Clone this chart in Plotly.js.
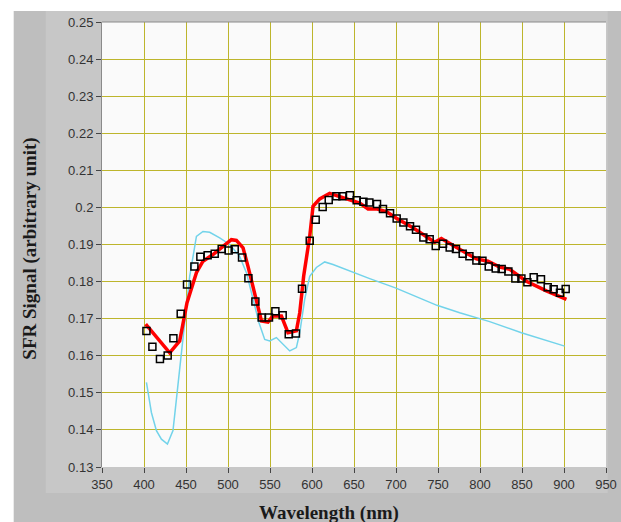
<!DOCTYPE html>
<html>
<head>
<meta charset="utf-8">
<script src="https://cdn.plot.ly/plotly-3.0.1.min.js"></script>
<style>
html,body{margin:0;padding:0;background:#ffffff;}
#chart{width:621px;height:522px;}
</style>
</head>
<body>
<div id="chart"></div>
<script>
// Measured signal (open squares)
var sqX = [402.9, 410.0, 419.0, 428.2, 435.0, 443.7, 451.2, 460.0, 467.1, 475.8, 484.2, 492.5, 500.8, 508.0, 516.7, 524.3, 532.6, 540.1, 548.8, 556.4, 565.1, 572.3, 580.9, 588.1, 597.3, 604.4, 612.7, 619.9, 629.0, 636.2, 645.2, 653.2, 661.2, 668.3, 677.4, 684.5, 692.9, 700.8, 708.8, 716.7, 723.8, 732.6, 740.1, 747.3, 756.0, 763.9, 771.4, 779.4, 787.4, 795.7, 802.9, 810.4, 818.7, 825.8, 833.8, 842.1, 849.3, 856.4, 863.9, 872.6, 880.6, 887.7, 895.2, 902.0];
var sqY = [0.1667, 0.1624, 0.1591, 0.1601, 0.1647, 0.1713, 0.1792, 0.1841, 0.1867, 0.1871, 0.1875, 0.1888, 0.1884, 0.1887, 0.1865, 0.1809, 0.1746, 0.1703, 0.1703, 0.1720, 0.1709, 0.1658, 0.1660, 0.1781, 0.1910, 0.1967, 0.2001, 0.2020, 0.2030, 0.2030, 0.2033, 0.2019, 0.2015, 0.2013, 0.2009, 0.1996, 0.1984, 0.1970, 0.1959, 0.1949, 0.1940, 0.1919, 0.1914, 0.1896, 0.1902, 0.1892, 0.1888, 0.1875, 0.1868, 0.1857, 0.1856, 0.1841, 0.1835, 0.1834, 0.1827, 0.1808, 0.1808, 0.1798, 0.1812, 0.1806, 0.1785, 0.1779, 0.1770, 0.1780];

// Fit (thick red line)
var redX = [402, 430.6, 442.5, 451.2, 462.4, 470.2, 482.1, 494, 504, 510, 517.9, 523.8, 533.8, 539.8, 547.6, 553.6, 563.6, 571.4, 581.4, 585.4, 590.1, 597.3, 601.2, 609.2, 621, 633, 644.9, 656.8, 666.7, 676.7, 688.6, 700.5, 720.2, 732.1, 746.1, 754, 763.9, 779.8, 795.7, 809.5, 823.5, 835.4, 855.2, 879, 902.9];
var redY = [0.1685, 0.1608, 0.1640, 0.1743, 0.1824, 0.1855, 0.1873, 0.1894, 0.1913, 0.1911, 0.1891, 0.1841, 0.1743, 0.1694, 0.1691, 0.1707, 0.1707, 0.1662, 0.1667, 0.1716, 0.1815, 0.1922, 0.2003, 0.2023, 0.2038, 0.2030, 0.2021, 0.2012, 0.1996, 0.1996, 0.1989, 0.1971, 0.1945, 0.1927, 0.1906, 0.1916, 0.1902, 0.1882, 0.1861, 0.1855, 0.1839, 0.1833, 0.1801, 0.1775, 0.1752];

// Reference curve (thin cyan line)
var cyanX = [402.9, 408.8, 414.8, 420.7, 427.9, 434.5, 438.6, 442.5, 448.5, 454.4, 462.4, 470.2, 478.2, 490.1, 502, 513.9, 521.9, 529.8, 536.9, 543.7, 549.6, 557.6, 565.5, 573.5, 581.4, 585.4, 591.3, 597.3, 605.2, 615.1, 625, 644.9, 668.7, 699.3, 724.3, 748.8, 775.8, 799.6, 811.5, 849.3, 900.8];
var cyanY = [0.1528, 0.1447, 0.1398, 0.1375, 0.1362, 0.1398, 0.1483, 0.1564, 0.1689, 0.1814, 0.1922, 0.1935, 0.1933, 0.1918, 0.1900, 0.1868, 0.1824, 0.1752, 0.1689, 0.1644, 0.1640, 0.1649, 0.1631, 0.1613, 0.1622, 0.1662, 0.1752, 0.1814, 0.1838, 0.1853, 0.1846, 0.1828, 0.1808, 0.1783, 0.1759, 0.1736, 0.1716, 0.1700, 0.1692, 0.1662, 0.1626];

var xTicks = [350, 400, 450, 500, 550, 600, 650, 700, 750, 800, 850, 900, 950];
var yTicks = [0.13, 0.14, 0.15, 0.16, 0.17, 0.18, 0.19, 0.2, 0.21, 0.22, 0.23, 0.24, 0.25];
var yTickText = ['0.13', '0.14', '0.15', '0.16', '0.17', '0.18', '0.19', '0.2', '0.21', '0.22', '0.23', '0.24', '0.25'];

var gridColor = '#bdb52c';
var tickFont = {family: 'Liberation Sans, Arial, sans-serif', size: 13, color: '#333333'};
var titleFont = {family: 'Liberation Serif, Times New Roman, serif', size: 19, color: '#1a1a1a', weight: 'bold'};

var traces = [
  {x: cyanX, y: cyanY, type: 'scatter', mode: 'lines', line: {color: '#72d3ea', width: 1.5}, hoverinfo: 'skip'},
  {x: redX, y: redY, type: 'scatter', mode: 'lines', line: {color: '#ff0000', width: 3.5}, hoverinfo: 'skip'},
  {x: sqX, y: sqY, type: 'scatter', mode: 'markers', marker: {symbol: 'square-open', size: 7, color: '#000000', line: {width: 1.5, color: '#000000'}}, hoverinfo: 'skip'}
];

var layout = {
  width: 621, height: 522,
  margin: {l: 102, r: 15, t: 22, b: 55},
  paper_bgcolor: '#ffffff',
  plot_bgcolor: 'rgba(0,0,0,0)',
  showlegend: false,
  xaxis: {
    range: [350, 950], tickvals: xTicks, ticktext: xTicks.map(String),
    showgrid: true, gridcolor: gridColor, gridwidth: 1, zeroline: false,
    ticks: 'outside', ticklen: 5, tickcolor: '#444', tickwidth: 1,
    tickfont: tickFont, showline: false, fixedrange: true
  },
  yaxis: {
    range: [0.13, 0.25], tickvals: yTicks, ticktext: yTickText,
    showgrid: true, gridcolor: gridColor, gridwidth: 1, zeroline: false,
    ticks: 'outside', ticklen: 5, tickcolor: '#444', tickwidth: 1,
    tickfont: tickFont, showline: true, linecolor: '#8a8a8a', linewidth: 1, fixedrange: true
  },
  shapes: [
    {type: 'rect', xref: 'paper', yref: 'paper', x0: -0.1752, x1: 1.05, y0: -0.2, y1: 1.0247, fillcolor: '#bebebe', line: {width: 0}, layer: 'below'},
    {type: 'rect', xref: 'paper', yref: 'paper', x0: -0.1117, x1: 1.0034, y0: -0.0584, y1: 1.0247, fillcolor: '#c7c7c7', line: {width: 0}, layer: 'below'},
    {type: 'rect', xref: 'paper', yref: 'paper', x0: 0, x1: 1, y0: 0, y1: 1, fillcolor: '#fafafa', line: {width: 0}, layer: 'below'},
    {type: 'line', xref: 'paper', yref: 'paper', x0: 0, x1: 1, y0: 1, y1: 1, line: {color: '#8a8a8a', width: 1}, layer: 'above'}
  ],
  annotations: [
    {text: 'Wavelength (nm)', xref: 'paper', yref: 'paper', x: 0.45, y: -0.103, xanchor: 'center', yanchor: 'middle', showarrow: false, font: titleFont},
    {text: 'SFR Signal (arbitrary unit)', xref: 'paper', yref: 'paper', x: -0.1435, y: 0.49, xanchor: 'center', yanchor: 'middle', textangle: -90, showarrow: false, font: titleFont}
  ]
};

Plotly.newPlot('chart', traces, layout, {displayModeBar: false, staticPlot: true});
</script>
</body>
</html>
